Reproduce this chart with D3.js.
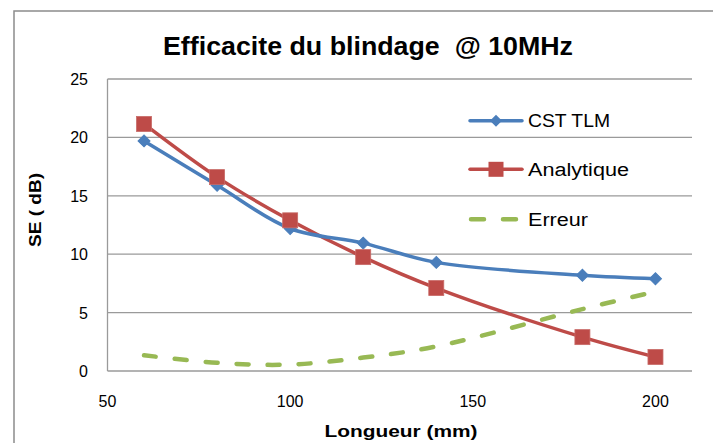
<!DOCTYPE html>
<html><head><meta charset="utf-8">
<script src="https://cdn.jsdelivr.net/npm/d3@7"></script>
<style>body{margin:0;background:#fff;}svg{display:block;font-family:"Liberation Sans",Arial,sans-serif;}</style>
</head><body>
<svg id="c" width="713" height="443"></svg>
<script>
const xValues = [60, 80, 100, 120, 140, 180, 200];
const cstTlm = [19.7, 15.9, 12.2, 10.95, 9.3, 8.2, 7.9];
const analytique = [21.15, 16.6, 12.9, 9.75, 7.1, 2.9, 1.2];
const erreur = [1.35, 0.7, 0.55, 1.15, 2.1, 5.3, 6.8];
const xTicks = [50, 100, 150, 200];
const yTicks = [0, 5, 10, 15, 20, 25];
const seriesNames = ["CST TLM", "Analytique", "Erreur"];
const colors = ["#4A7EBB", "#BE4B48", "#98B954"];

const svg = d3.select("#c");
const x = d3.scaleLinear().domain([50, 210]).range([107.5, 692]);
const y = d3.scaleLinear().domain([0, 25]).range([371, 79]);

// outer border
svg.append("rect").attr("x",14).attr("y",11).attr("width",720).attr("height",450)
  .attr("fill","#fff").attr("stroke","#8c8c8c").attr("stroke-width",1.5);

// gridlines
svg.append("g").selectAll("line").data(yTicks).join("line")
  .attr("x1",x(50)).attr("x2",x(210)).attr("y1",d=>y(d)).attr("y2",d=>y(d))
  .attr("stroke","#9a9a9a").attr("stroke-width",1.3);
// left axis line
svg.append("line").attr("x1",x(50)).attr("x2",x(50)).attr("y1",y(0)).attr("y2",y(25))
  .attr("stroke","#9a9a9a").attr("stroke-width",1.3);

// tick labels
svg.append("g").selectAll("text").data(yTicks).join("text")
  .attr("x",88).attr("y",d=>y(d)+6).attr("text-anchor","end")
  .attr("font-size",16).attr("fill","#000").text(d=>d);
svg.append("g").selectAll("text").data(xTicks).join("text")
  .attr("x",d=>x(d)).attr("y",407).attr("text-anchor","middle")
  .attr("font-size",16).attr("fill","#000").text(d=>d);

// titles
svg.append("text").attr("x",368).attr("y",55).attr("text-anchor","middle")
  .attr("font-size",25).attr("font-weight","bold").attr("textLength",410).attr("lengthAdjust","spacingAndGlyphs")
  .attr("xml:space","preserve").style("white-space","pre")
  .text("Efficacite du blindage  @ 10MHz");
svg.append("text").attr("x",401).attr("y",437).attr("text-anchor","middle")
  .attr("font-size",17).attr("font-weight","bold").attr("textLength",153).attr("lengthAdjust","spacingAndGlyphs")
  .text("Longueur (mm)");
svg.append("text").attr("transform","translate(41,210) rotate(-90)").attr("text-anchor","middle")
  .attr("font-size",17).attr("font-weight","bold").attr("textLength",74).attr("lengthAdjust","spacingAndGlyphs")
  .text("SE ( dB)");

const line = d3.line().x(d=>x(d[0])).y(d=>y(d[1])).curve(d3.curveCatmullRom.alpha(0.5));
const zip = vals => xValues.map((v,i)=>[v, vals[i]]);

// Erreur dashed
svg.append("path").attr("d", line(zip(erreur))).attr("fill","none")
  .attr("stroke",colors[2]).attr("stroke-width",4.5).attr("stroke-linecap","round")
  .attr("stroke-dasharray","12,19");
// Analytique
svg.append("path").attr("d", line(zip(analytique))).attr("fill","none")
  .attr("stroke",colors[1]).attr("stroke-width",3.5).attr("stroke-linejoin","round");
// CST
svg.append("path").attr("d", line(zip(cstTlm))).attr("fill","none")
  .attr("stroke",colors[0]).attr("stroke-width",3.5).attr("stroke-linejoin","round");

const diamond = d3.symbol().type(d3.symbolDiamond2 || d3.symbolDiamond).size(110);
svg.append("g").selectAll("path").data(zip(cstTlm)).join("path")
  .attr("transform",d=>`translate(${x(d[0])},${y(d[1])}) rotate(0)`)
  .attr("d", d3.symbol().type(d3.symbolSquare).size(72)).attr("transform",d=>`translate(${x(d[0])},${y(d[1])}) rotate(45)`)
  .attr("fill",colors[0]).attr("stroke",colors[0]).attr("stroke-width",1);
svg.append("g").selectAll("rect").data(zip(analytique)).join("rect")
  .attr("x",d=>x(d[0])-7.5).attr("y",d=>y(d[1])-7.5).attr("width",15).attr("height",15)
  .attr("fill",colors[1]).attr("stroke","#c86a67").attr("stroke-width",0.8);

// legend
const legY = [120.7, 169.3, 219.3];
const lg = svg.append("g");
seriesNames.forEach((name,i)=>{
  const l = lg.append("line").attr("x1",470).attr("x2",522).attr("y1",legY[i]).attr("y2",legY[i])
    .attr("stroke",colors[i]).attr("stroke-width", i===2?4.5:3.5).attr("stroke-linecap","round");
  if(i===2) l.attr("x1",471).attr("stroke-dasharray","13,19");
  if(i===0) lg.append("path").attr("d", d3.symbol().type(d3.symbolSquare).size(72)())
    .attr("transform",`translate(496,${legY[i]}) rotate(45)`).attr("fill",colors[0]);
  if(i===1) lg.append("rect").attr("x",488.5).attr("y",legY[i]-7.5).attr("width",15).attr("height",15).attr("fill",colors[1]);
  const lens = [82, 101, 60];
  lg.append("text").attr("x",528).attr("y",legY[i]+6.5).attr("font-size",18).attr("fill","#000")
    .attr("textLength",lens[i]).attr("lengthAdjust","spacingAndGlyphs").text(name);
});
</script>
</body></html>
